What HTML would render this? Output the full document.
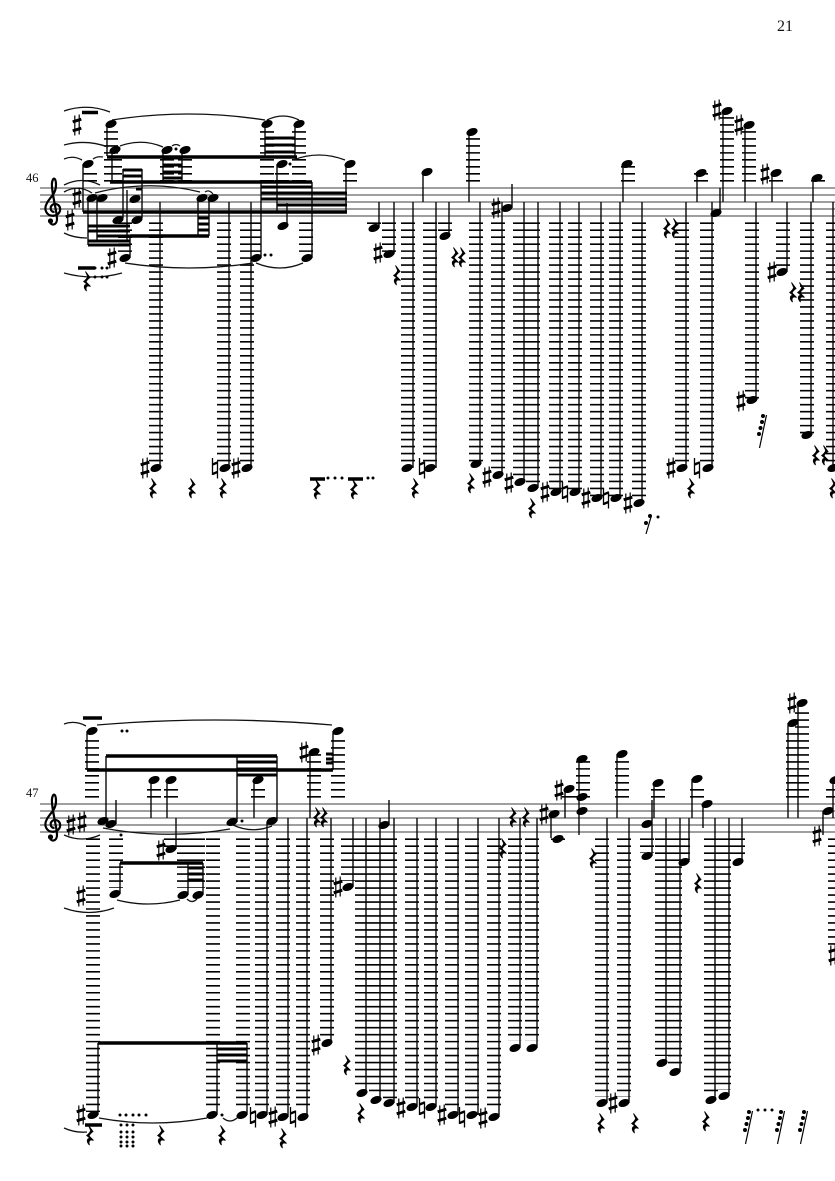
<!DOCTYPE html>
<html><head><meta charset="utf-8"><style>
html,body{margin:0;padding:0;background:#fff;width:835px;height:1181px;overflow:hidden}
svg{display:block}
text{font-family:"Liberation Serif",serif;fill:#111}
.s{fill:none;stroke:#666;stroke-width:1.3}
.l{fill:none;stroke:#000;stroke-width:14;stroke-dasharray:1.6 5.38}
.t{fill:none;stroke:#000;stroke-width:1.35}
.b{fill:none;stroke:#000;stroke-width:3.6}
.b2{fill:none;stroke:#000;stroke-width:3}
.c{fill:none;stroke:#111;stroke-width:1.3}
.m{fill:none;stroke:none}
.k{fill:none;stroke:#000;stroke-width:2.2}
</style></head><body>
<svg width="835" height="1181" viewBox="0 0 835 1181" xmlns="http://www.w3.org/2000/svg">
<defs>
<marker id="n" markerUnits="userSpaceOnUse" markerWidth="14" markerHeight="10" refX="0" refY="0" style="overflow:visible"><ellipse rx="5.8" ry="3.7" transform="rotate(-20)" fill="#000"/></marker>
<marker id="h" markerUnits="userSpaceOnUse" markerWidth="14" markerHeight="20" refX="0" refY="0" style="overflow:visible"><path d="M-2.2-9.5V10.5M2.2-10.5V9.5" stroke="#000" stroke-width="1.2" fill="none"/><path d="M-4.3-3.2L4.3-5.8M-4.3 5.8L4.3 3.2" stroke="#000" stroke-width="2.9" fill="none"/></marker>
<marker id="q" markerUnits="userSpaceOnUse" markerWidth="14" markerHeight="20" refX="0" refY="0" style="overflow:visible"><path d="M-2.5-10V7M2.5-6.5V10.5" stroke="#000" stroke-width="1.3" fill="none"/><path d="M-2.5-3.5L2.5-5.5M-2.5 6L2.5 4" stroke="#000" stroke-width="2.4" fill="none"/></marker>
<marker id="r" markerUnits="userSpaceOnUse" markerWidth="14" markerHeight="24" refX="0" refY="0" style="overflow:visible"><path d="M-1.5-9.5L3-3.5Q0-1.5-1 1L3.5 5.5C0 4-2 6-.5 10C-4 6.5-3 3 .5 3.5L-3.3.5Q0-2 .7-4.5Z" fill="#000" stroke="#000" stroke-width=".9"/></marker>
<marker id="d" markerUnits="userSpaceOnUse" markerWidth="5" markerHeight="5" refX="0" refY="0" style="overflow:visible"><circle r="1.5" fill="#000"/></marker>
<marker id="x" markerUnits="userSpaceOnUse" markerWidth="14" markerHeight="40" refX="0" refY="0" style="overflow:visible"><path d="M-3.5 17L3.5-16" stroke="#000" stroke-width="1.2" fill="none"/><circle cx="0" cy="-15" r="2" fill="#000"/><circle cx="-1" cy="-9" r="2" fill="#000"/><circle cx="-2.5" cy="-3" r="2" fill="#000"/><circle cx="-4" cy="3" r="2" fill="#000"/></marker>
</defs>

<rect width="835" height="1181" fill="#fff"/>
<text x="777" y="31" font-size="16">21</text>
<text x="26" y="182" font-size="12.5">46</text>
<text x="26" y="797" font-size="12.5">47</text>

<!-- staves -->
<path class="s" d="M40 188H835M40 195H835M40 202H835M40 209H835M40 216H835M40 804H835M40 811H835M40 818H835M40 825H835M40 832H835"/>

<!-- clefs -->
<g transform="translate(53 209)"><path class="k" d="M1.5 3C-3 3-4-3 1-5C8-6 10 4 2 6.5C-6 8-10 1-6-6C-3-12 3-15 3-24C3-31 0-33-1-26C-2-18 4 2 4 10C4 17-3 17-3 12"/><circle cx="-2.5" cy="12" r="2.6"/></g>
<g transform="translate(53 825)"><path class="k" d="M1.5 3C-3 3-4-3 1-5C8-6 10 4 2 6.5C-6 8-10 1-6-6C-3-12 3-15 3-24C3-31 0-33-1-26C-2-18 4 2 4 10C4 17-3 17-3 12"/><circle cx="-2.5" cy="12" r="2.6"/></g>

<!-- ledgers: above staff 1 -->
<path class="l" d="M111 181.6V130M115 181.6V156M90 181.6V170M167 181.6V156M185 181.6V156M267 181.6V130M299 181.6V130M282 181.6V170M350 181.6V170M473 181.6V138M628 181.6V166M701 181.6V173M727 181.6V117M749 181.6V131M776 181.6V180M818 181.6V180"/>
<!-- ledgers: below staff 1 -->
<path class="l" d="M125 222.4V252M254 222.4V252M306 222.4V252M374 222.4V224M389 222.4V252M445 222.4V231M156 222.4V462M224 222.4V462M247 222.4V462M408 222.4V462M430 222.4V462M476 222.4V462M498 222.4V469M520 222.4V476M533 222.4V483M556 222.4V490M575 222.4V490M597 222.4V497M616 222.4V497M639 222.4V497M682 222.4V462M707 222.4V462M752 222.4V399M783 222.4V266M807 222.4V434M833 222.4V462"/>
<!-- ledgers: above staff 2 -->
<path class="l" d="M92 797.6V740M154 797.6V789M171 797.6V789M258 797.6V789M314 797.6V754M338 797.6V740M569 797.6V796M583 797.6V761M622 797.6V760M658 797.6V789M697 797.6V789M802 797.6V710M793 797.6V731M833 797.6V789"/>
<!-- ledgers: below staff 2 -->
<path class="l" d="M93 838.4V1112M116 838.4V888M184 838.4V888M198 838.4V888M213 838.4V1110M243 838.4V1110M262 838.4V1110M283 838.4V1110M303 838.4V1110M327 838.4V1040M348 838.4V881M362 838.4V1087M376 838.4V1094M390 838.4V1101M412 838.4V1101M431 838.4V1101M452 838.4V1110M472 838.4V1110M494 838.4V1110M515 838.4V1041M532 838.4V1041M602 838.4V1097M624 838.4V1097M647 838.4V853M662 838.4V1056M675 838.4V1066M683 838.4V860M711 838.4V1094M724 838.4V1090M738 838.4V857M835 838.4V950M558 838.4V840M171 838.4V847"/>

<!-- stems -->
<path class="t" d="M160 202V468M229 202V468M251 202V468M413 202V468M436 202V468M480 202V464M502 202V475M524 202V482M538 202V488M560 202V492M579 202V492M601 202V498M620 202V498M642 202V503M686 202V468M712 202V468M756 202V400M787 202V272M811 202V435M833 202V468M469 132V202M512 184V208M623 164V202M697 173V202M720 188V213M723 111V202M745 125V202M772 173V202M813 178V202M379 202V228M394 202V254M423 172V202M449 202V236M83 164V212M112 150V182M88 198V245M97 198V240M123 169V218M127 190V240M142 169V218M130 236V258M198 198V236M209 198V236M346 164V212M261 182V258M277 164V212M287 203V226M312 182V258M265 124V157M295 124V157M163 150V182M182 150V182M107 124V156"/>
<path class="t" d="M87 731V770M106 756V821M116 800V824M151 780V818M167 780V818M176 818V849M237 756V822M254 780V818M277 756V821M267 822V1115M310 752V818M333 731V770M120 863V894M188 863V895M203 863V895M217 1043V1115M98 1043V1115M247 1043V1115M288 818V1117M307 818V1117M331 818V1043M353 818V887M366 818V1093M380 818V1100M394 818V1103M417 818V1107M436 818V1107M458 818V1115M478 818V1115M499 818V1117M389 800V825M520 818V1048M537 818V1048M551 814V838M565 789V818M579 759V835M607 818V1103M617 754V818M629 818V1103M652 800V856M654 783V818M666 818V1063M680 818V1072M689 818V862M692 779V818M703 804V828M715 818V1100M729 818V1096M742 818V862M798 703V818M788 723V818M823 811V835M833 782V818"/>

<!-- beams -->
<path class="b" d="M107 157H297M110 182H312M83 212H347M130 236H209"/>
<path class="b2" d="M88 226H130M88 231H130M97 236H130M88 241H130M88 245H130M123 170H142M123 176H142M136 189H142M163 158H182M163 165H182M163 172H182M163 178H182M265 138H295M265 145H295M265 152H295M261 187H312M261 193H312M261 199H277M277 199H347M277 205H347M312 193H347M198 218H209M198 224H209M198 230H209"/>
<path class="b" d="M87 770H333M106 756H277M120 863H203M98 1043H247"/>
<path class="b2" d="M237 762H277M237 769H277M237 775H277M188 868H203M188 874H203M188 880H203M217 1049H247M217 1055H247M217 1061H247M326 754H333M326 759H333M326 763H333"/>
<!-- whole-rest bars -->
<path class="b" d="M82 112.5H98M83 718H102M85 1125H102M78 268H95M310 479H325M348 479H363"/>

<!-- slurs -->
<path class="c" d="M64 111Q87 103 110 112M112 120Q188 108 265 120M267 120Q283 112 299 120M64 145Q86 139 108 147M120 146Q142 138 163 147M172 146Q176 143 180 146M64 159Q73 155 82 160M93 159Q97 156 103 157M293 160Q319 150 345 160M64 185Q82 176 100 185M64 192Q78 184 92 193M95 193Q148 179 200 192M205 192Q209 189 213 194M64 233Q74 238 87 238M125 263Q189 273 253 263M256 263Q280 273 303 263M64 273Q93 281 122 273M64 724Q75 720 86 726M97 725Q215 715 332 725M103 828Q166 840 230 829M233 825Q252 834 272 826M64 835Q82 843 100 835M117 900Q148 908 180 900M187 899Q192 904 197 899M64 908Q89 917 114 908M99 1118Q153 1128 207 1118M223 1118Q230 1124 237 1118M64 1128Q75 1133 87 1132"/>

<!-- noteheads -->
<path class="m" marker-start="url(#n)" marker-mid="url(#n)" marker-end="url(#n)" d="M111 124L115 150L88 164L267 124L299 124L167 150L185 150L282 164L350 164L92 198L102 198L135 199L202 198L213 198L118 220L137 220L283 226L125 258L256 258L307 258L374 228L389 254L427 172L445 236L472 132L507 208L627 164L701 173L716 213L727 111L749 125L776 173L817 178L782 272L752 400L807 435L833 468L156 468L225 468L247 468L407 468L430 468L476 464L498 475L520 482L533 488L556 492L575 492L597 498L616 498L639 503L682 468L708 468L92 731L103 821L111 824L154 780L171 780L171 849L232 822L258 780L272 821L314 752L338 731L115 894L183 895L198 895L93 1115L212 1115L242 1115L262 1115L283 1117L303 1117L327 1043L348 887L362 1093L376 1100L389 1103L412 1107L431 1107L453 1115L472 1115L494 1117L384 825L515 1048L532 1048L554 814L558 839L569 789L582 759L582 797L582 811L622 754L602 1103L624 1103L647 824L647 856L658 783L662 1063L675 1072L684 862L697 779L707 804L711 1100L724 1096L738 862L802 703L793 723L828 811L835 780"/>

<!-- sharps -->
<path class="m" marker-start="url(#h)" marker-mid="url(#h)" marker-end="url(#h)" d="M77 125L77 198L70 220L112 258L145 468L378 253L236 468L487 477L509 483L545 492L586 498L628 503L671 468L496 208L717 110L739 125L765 174L772 272L741 401L71 825L82 822L304 752L161 850L81 896L81 1115L316 1045L338 887L401 1108L442 1115L483 1118L273 1117L544 814L559 790L792 703L817 836L613 1103L833 955"/>
<!-- naturals -->
<path class="m" marker-start="url(#q)" marker-mid="url(#q)" marker-end="url(#q)" d="M215 468L422 468L565 492L606 498L697 468L253 1117L293 1117L422 1108L462 1117"/>

<!-- rests -->
<path class="m" marker-start="url(#r)" marker-mid="url(#r)" marker-end="url(#r)" d="M153 488L192 488L223 488L317 489L354 489L415 488L397 275L455 257L462 257L471 483L532 508L667 228L675 228L691 488L793 292L801 292L816 455L825 455L833 488L87 281L90 1135L161 1135L222 1135L283 1138L361 1113L347 1065L317 817L324 817L513 817L526 817L503 848L593 858L601 1123L635 1123L706 1121L698 883"/>

<!-- hemi rests -->
<path class="m" marker-start="url(#x)" marker-mid="url(#x)" marker-end="url(#x)" d="M763 431L749 1127L781 1127L804 1127"/>
<!-- dotted rest -->
<path d="M646 534L651 517" stroke="#000" stroke-width="1.2" fill="none"/><circle cx="650" cy="516" r="2"/><circle cx="646" cy="523" r="2"/>

<!-- dots -->
<path class="m" marker-start="url(#d)" marker-mid="url(#d)" marker-end="url(#d)" d="M265 255L271 255L328 478L335 478L342 478L368 478L373 478L176 149L290 164L95 268L102 268L107 268L95 277L102 277L107 277L122 731L127 731L121 835L242 821L658 517L222 1115L120 1115L126 1115L133 1115L139 1115L146 1115L121 1125L127 1125L133 1125L121 1132L127 1132L133 1132L121 1137L127 1137L133 1137L121 1142L127 1142L133 1142L121 1146L127 1146L133 1146L758 1110L765 1110L772 1110"/>
</svg>
</body></html>
